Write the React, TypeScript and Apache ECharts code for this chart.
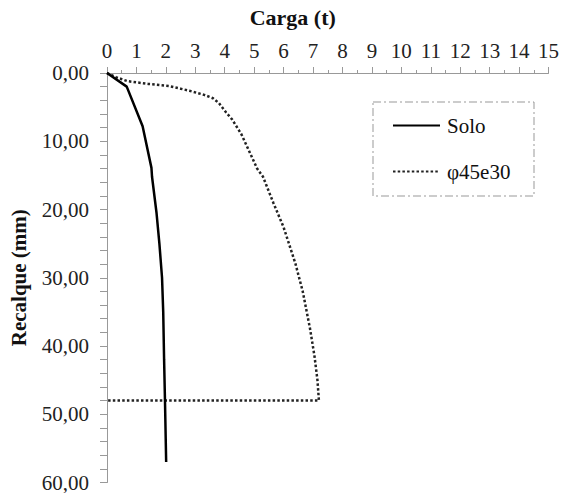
import React, { useEffect, useRef } from "react";
import * as echarts from "echarts";

const soloData: [number, number][] = [
  [0, 0], [0.67, 2.0], [1.21, 7.8], [1.51, 13.9], [1.53, 15.2], [1.68, 20.4],
  [1.78, 25], [1.87, 30], [1.91, 35], [1.94, 42], [1.97, 48], [2.01, 57],
];

const phiData: [number, number][] = [
  [0, 0], [0.3, 0.6], [0.7, 1.2], [1.4, 1.6], [2.1, 1.9], [2.5, 2.3], [2.8, 2.6],
  [3.3, 3.2], [3.6, 3.7], [3.8, 4.4], [4.05, 5.8], [4.25, 6.8], [4.57, 9.0],
  [5.1, 14.0], [5.3, 15.2], [5.65, 19], [6.0, 22.6], [6.4, 27.9], [6.65, 32],
  [6.8, 35.3], [6.9, 37.5], [7.05, 41.5], [7.15, 45], [7.2, 48.0], [0, 48.0],
];

const seriesNames = ["Solo", "φ45e30"];
const xAxisName = "Carga (t)";
const yAxisName = "Recalque (mm)";

const FONT = "Liberation Serif";

export default function App() {
  const ref = useRef<HTMLDivElement>(null);
  useEffect(() => {
    if (!ref.current) return;
    const chart = echarts.init(ref.current, undefined, { renderer: "svg" });
    chart.setOption({
      animation: false,
      backgroundColor: "#fff",
      textStyle: { fontFamily: FONT },
      grid: { left: 107, right: 13, top: 73, bottom: 6 },
      xAxis: {
        type: "value",
        position: "top",
        min: 0,
        max: 15,
        interval: 1,
        name: xAxisName,
        nameLocation: "middle",
        nameGap: 45,
        nameTextStyle: {
          fontFamily: FONT,
          fontWeight: "bold",
          fontSize: 22,
          color: "#111",
          padding: [0, 70, 0, 0],
        },
        axisLine: { show: true, lineStyle: { color: "#999", width: 1 } },
        axisTick: { show: true, length: 6, lineStyle: { color: "#999" } },
        minorTick: { show: true, splitNumber: 2, length: 3, lineStyle: { color: "#999" } },
        splitLine: { show: false },
        axisLabel: { fontFamily: FONT, fontSize: 21, color: "#222", margin: 12 },
      },
      yAxis: {
        type: "value",
        inverse: true,
        min: 0,
        max: 60,
        interval: 2,
        name: yAxisName,
        nameLocation: "middle",
        nameGap: 78,
        nameRotate: 90,
        nameTextStyle: { fontFamily: FONT, fontWeight: "bold", fontSize: 21, color: "#111" },
        axisLine: { show: true, lineStyle: { color: "#999", width: 1 } },
        axisTick: { show: true, length: 7, lineStyle: { color: "#999" } },
        splitLine: { show: false },
        axisLabel: {
          fontFamily: FONT,
          fontSize: 21,
          color: "#222",
          margin: 18,
          formatter: (v: number) => (Math.round(v) % 10 === 0 ? v.toFixed(2).replace(".", ",") : ""),
        },
      },
      legend: {
        orient: "vertical",
        left: 392,
        top: 115,
        itemWidth: 47,
        itemHeight: 21,
        itemGap: 25,
        padding: 0,
        data: seriesNames,
        itemStyle: { opacity: 0 },
        textStyle: { fontFamily: FONT, fontSize: 21, color: "#111", lineHeight: 21, padding: [0, 0, 0, 2] },
      },
      graphic: [
        {
          type: "rect",
          shape: { x: 373, y: 102, width: 161, height: 94 },
          style: { fill: "none", stroke: "#999", lineWidth: 1, lineDash: [8, 3, 2, 3] },
          silent: true,
        },
      ],
      series: [
        {
          name: seriesNames[0],
          type: "line",
          data: soloData,
          symbol: "none",
          lineStyle: { color: "#000", width: 2.5, type: "solid" },
          itemStyle: { color: "#000" },
          z: 3,
        },
        {
          name: seriesNames[1],
          type: "line",
          data: phiData,
          symbol: "none",
          lineStyle: { color: "#222", width: 2.5, type: [2.5, 2.2] },
          itemStyle: { color: "#222" },
          z: 2,
        },
      ],
    });
    return () => chart.dispose();
  }, []);
  return (
    <div
      ref={ref}
      style={{ position: "fixed", left: 0, top: 0, width: 562, height: 493, background: "#fff" }}
    />
  );
}
